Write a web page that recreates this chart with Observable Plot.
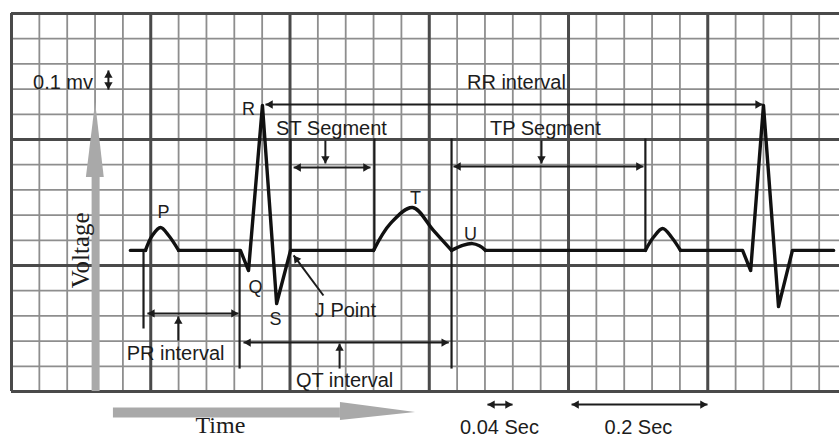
<!DOCTYPE html>
<html><head><meta charset="utf-8">
<script src="https://cdn.jsdelivr.net/npm/d3@7"></script>
<script src="https://cdn.jsdelivr.net/npm/@observablehq/plot@0.6"></script>
<style>body{margin:0;background:#fff}#chart svg{display:block}</style>
</head><body><div id="chart"></div>
<script>
// Units: x in mm of ECG paper (1 mm = 0.04 s), y in mm (1 mm = 0.1 mV)
const minorX = d3.range(0, 30);
const majorX = [0, 5, 10, 15, 20, 25];
const minorY = d3.range(0, 16);
const majorY = [0, 5, 10, 15];
const gridRight = 29.73;

// ECG trace: straight pieces (baseline + QRS complexes)
const traceSegments = [
  [[4.27, 5.60], [4.81, 5.60]],
  [[6.00, 5.60], [8.22, 5.60], [8.51, 4.80], [9.01, 11.35], [9.52, 3.49], [10.02, 5.60], [13.00, 5.60]],
  [[17.02, 5.60], [22.76, 5.60]],
  [[24.02, 5.60], [26.25, 5.60], [26.54, 4.80], [27.00, 11.35], [27.54, 3.37], [28.04, 5.60], [29.52, 5.60]]
];
// ECG trace: rounded waves (P, T, U, P)
const waves = [
  [[4.81, 5.60], [5.05, 6.18], [5.35, 6.51], [5.65, 6.18], [6.00, 5.60]],
  [[13.00, 5.60], [13.61, 6.67], [14.40, 7.30], [15.15, 6.39], [15.80, 5.60]],
  [[15.80, 5.60], [16.20, 5.80], [16.55, 5.87], [16.80, 5.78], [17.02, 5.60]],
  [[22.76, 5.60], [23.05, 6.12], [23.38, 6.47], [23.70, 6.12], [24.02, 5.60]]
];

// Vertical guide lines [x, yTop, yBottom]
const guides = [
  [4.74, 5.60, 2.50],
  [8.19, 5.60, 0.91],
  [10.02, 10.04, 5.60],
  [13.03, 10.04, 5.60],
  [15.80, 10.04, 0.91],
  [22.76, 10.04, 5.60]
];

// Arrows [x1, y1, x2, y2, bothHeads]
const arrows = [
  [9.12, 11.39, 26.97, 11.39, true],   // RR
  [10.13, 8.89, 12.89, 8.89, true],    // ST
  [15.87, 8.93, 22.69, 8.93, true],    // TP
  [4.88, 3.10, 8.15, 3.10, true],      // PR
  [8.33, 1.94, 15.70, 1.94, true],     // QT
  [17.09, -0.52, 17.99, -0.52, true],  // 0.04 s
  [20.11, -0.52, 24.99, -0.52, true],  // 0.2 s
  [3.48, 12.74, 3.48, 11.98, true],    // 0.1 mV
  [11.27, 9.96, 11.27, 9.05, false],   // ST pointer
  [19.03, 9.96, 19.03, 9.05, false],   // TP pointer
  [5.99, 2.02, 5.99, 2.98, false],     // PR pointer
  [11.78, 0.91, 11.78, 1.90, false],   // QT pointer
  [11.20, 3.81, 10.13, 5.40, false]    // J point pointer
];

// Text labels [text, x, baseline y]
const labels = [
  ["0.1 mv", 1.85, 12.02],
  ["RR interval", 18.13, 12.02],
  ["ST Segment", 11.49, 10.16],
  ["TP Segment", 19.17, 10.16],
  ["J Point", 11.99, 2.94],
  ["PR interval", 5.89, 1.23],
  ["QT interval", 11.96, 0.16],
  ["0.04 Sec", 17.52, -1.67],
  ["0.2 Sec", 22.51, -1.67]
];
const waveLabels = [
  ["P", 5.46, 6.87],
  ["R", 8.51, 10.99],
  ["Q", 8.76, 3.89],
  ["S", 9.48, 2.62],
  ["T", 14.51, 7.46],
  ["U", 16.48, 6.03]
];
const axisWords = [["Time", 7.50, -1.63, 0], ["Voltage", 2.48, 5.60, -90]];

// Big grey axis arrows
const voltArrowShaft = [[3.02, 0, 8.49]];
const voltArrowHead = [[8.49, 2.69, 3.33], [11.47, 3.02, 3.02]];
const timeArrowShaft = [[-0.83, 3.66, 11.81]];
const timeArrowHead = [[11.81, -1.15, -0.44], [14.51, -0.83, -0.83]];

// ---- build ----
const W = 839, H = 439;
const xDomain = [-0.395, 29.73], yDomain = [-1.905, 15.516];
const KX = W / (xDomain[1] - xDomain[0]);
const KY = H / (yDomain[1] - yDomain[0]);

const flat = traceSegments.flatMap((s, i) => s.map(([t, v]) => ({seg: i, t, v})));
const waveData = waves.flatMap((s, i) => s.map(([t, v]) => ({seg: i, t, v})));
const guideData = guides.map(([x, a, b]) => ({x1: x, y1: a, x2: x, y2: b}));
const arrowData = arrows.map(([x1, y1, x2, y2, both]) => ({x1, y1, x2, y2, both}));

const R = 3.1;
const tip = 2 * Math.sqrt((Math.PI * R * R) / (3 * Math.sqrt(3)));
function head(fx, fy, ex, ey) {
  const dx = (ex - fx) * KX, dy = (ey - fy) * KY;
  const len = Math.hypot(dx, dy);
  const ux = dx / len, uy = dy / len;
  return {x: ex - ux * tip / KX, y: ey - uy * tip / KY, angle: Math.atan2(dx, dy) * 180 / Math.PI};
}
const heads = arrowData.flatMap(a => {
  const h = [head(a.x1, a.y1, a.x2, a.y2)];
  if (a.both) h.push(head(a.x2, a.y2, a.x1, a.y1));
  return h;
});

const grey = "#a9a9a9";
const ink = "#1c1c1c";
const sans = "Liberation Sans, Arial, sans-serif";
const serif = "Liberation Serif, Times New Roman, serif";

const chart = Plot.plot({
  width: W, height: H,
  marginTop: 0, marginRight: 0, marginBottom: 0, marginLeft: 0,
  x: {domain: xDomain, axis: null},
  y: {domain: yDomain, axis: null},
  style: {background: "#fff", fontFamily: sans},
  marks: [
    Plot.ruleX(minorX, {x: d => d, y1: 0, y2: 15, stroke: "#8e8e8e", strokeWidth: 1.8}),
    Plot.ruleY(minorY, {y: d => d, x1: 0, x2: gridRight, stroke: "#8e8e8e", strokeWidth: 1.8}),
    Plot.ruleX(majorX, {x: d => d, y1: 0, y2: 15, stroke: "#4a4a4a", strokeWidth: 3}),
    Plot.ruleY(majorY, {y: d => d, x1: 0, x2: gridRight, stroke: "#4a4a4a", strokeWidth: 3}),
    // grey axis arrows
    Plot.ruleX(voltArrowShaft, {x: d => d[0], y1: d => d[1], y2: d => d[2], stroke: grey, strokeWidth: 8}),
    Plot.areaX(voltArrowHead, {y: d => d[0], x1: d => d[1], x2: d => d[2], fill: grey}),
    Plot.ruleY(timeArrowShaft, {y: d => d[0], x1: d => d[1], x2: d => d[2], stroke: grey, strokeWidth: 10}),
    Plot.areaY(timeArrowHead, {x: d => d[0], y1: d => d[1], y2: d => d[2], fill: grey}),
    // guides and arrows
    Plot.link(guideData, {x1: "x1", y1: "y1", x2: "x2", y2: "y2", stroke: ink, strokeWidth: 2.2}),
    Plot.link(arrowData, {x1: "x1", y1: "y1", x2: "x2", y2: "y2", stroke: ink, strokeWidth: 2}),
    Plot.dot(heads, {x: "x", y: "y", rotate: "angle", symbol: "triangle", r: R, fill: ink, stroke: "none"}),
    // ECG trace
    Plot.line(flat, {x: "t", y: "v", z: "seg", stroke: "#111", strokeWidth: 3.4, strokeLinejoin: "round"}),
    Plot.line(waveData, {x: "t", y: "v", z: "seg", stroke: "#111", strokeWidth: 3.4, curve: "catmull-rom"}),
    // text
    Plot.text(labels, {x: d => d[1], y: d => d[2], text: d => d[0], fontSize: 20, fill: ink, lineAnchor: "bottom", fontFamily: sans}),
    Plot.text(waveLabels, {x: d => d[1], y: d => d[2], text: d => d[0], fontSize: 18, fill: ink, lineAnchor: "bottom", fontFamily: sans}),
    Plot.text(axisWords.slice(0, 1), {x: d => d[1], y: d => d[2], text: d => d[0], fontSize: 24, fill: ink, lineAnchor: "bottom", fontFamily: serif}),
    Plot.text(axisWords.slice(1), {x: d => d[1], y: d => d[2], text: d => d[0], fontSize: 25, fill: ink, rotate: -90, fontFamily: serif})
  ]
});
document.getElementById("chart").append(chart);
</script></body></html>
